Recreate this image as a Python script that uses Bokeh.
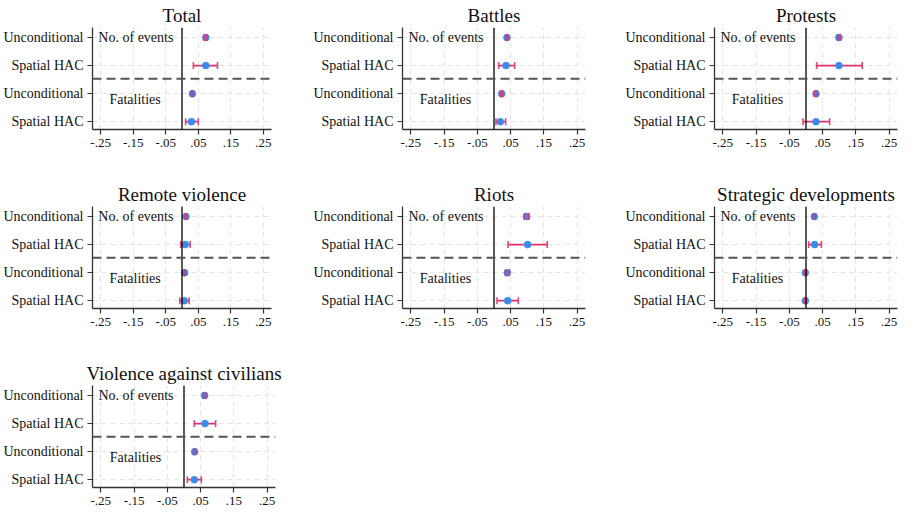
from bokeh.plotting import figure
from bokeh.layouts import column, row
from bokeh.models import FixedTicker, Range1d, Span, Label, ColumnDataSource
from bokeh.embed import file_html
from bokeh.resources import INLINE
import math

# ---------------- data ----------------
row_labels = ["Unconditional", "Spatial HAC", "Unconditional", "Spatial HAC"]
row_pos = [4, 3, 2, 1]
x_ticks = [-0.25, -0.15, -0.05, 0.05, 0.15, 0.25]
x_tick_labels = ["-.25", "-.15", "-.05", ".05", ".15", ".25"]
group_labels = ["No. of events", "Fatalities"]

titles = ["Total", "Battles", "Protests", "Remote violence", "Riots",
          "Strategic developments", "Violence against civilians"]

total_coef = [0.073, 0.073, 0.032, 0.029]
total_lo = [0.069, 0.035, 0.029, 0.011]
total_hi = [0.077, 0.109, 0.035, 0.050]

battles_coef = [0.039, 0.036, 0.023, 0.019]
battles_lo = [0.036, 0.014, 0.020, 0.006]
battles_hi = [0.042, 0.062, 0.026, 0.035]

protests_coef = [0.099, 0.099, 0.030, 0.030]
protests_lo = [0.095, 0.032, 0.026, -0.009]
protests_hi = [0.103, 0.169, 0.034, 0.071]

remote_coef = [0.012, 0.010, 0.008, 0.007]
remote_lo = [0.010, -0.004, 0.006, -0.007]
remote_hi = [0.014, 0.025, 0.010, 0.022]

riots_coef = [0.098, 0.101, 0.040, 0.041]
riots_lo = [0.091, 0.042, 0.035, 0.009]
riots_hi = [0.105, 0.160, 0.045, 0.073]

strategic_coef = [0.025, 0.026, -0.002, -0.002]
strategic_lo = [0.022, 0.008, -0.004, -0.004]
strategic_hi = [0.028, 0.046, 0.000, 0.000]

vac_coef = [0.062, 0.063, 0.032, 0.031]
vac_lo = [0.058, 0.031, 0.029, 0.010]
vac_hi = [0.066, 0.095, 0.035, 0.052]

FONT = "'Liberation Serif', serif"
BLUE = "#3a8bea"
RED = "#e0336e"


def make_panel(title, coef, lo, hi, width, bl, br, height=179, bb=50):
    p = figure(width=width, height=height,
               x_range=Range1d(-0.275, 0.275), y_range=Range1d(0.72, 4.36),
               output_backend="svg", toolbar_location=None, tools="",
               min_border_left=bl, min_border_right=br,
               min_border_top=24, min_border_bottom=bb, title=title)
    p.outline_line_color = None
    p.background_fill_color = "white"
    p.border_fill_color = "white"

    p.title.text_font = FONT
    p.title.text_font_size = "19px"
    p.title.text_font_style = "normal"
    p.title.align = "center"
    p.title.text_color = "#111111"
    p.title.standoff = 4

    p.xaxis.ticker = FixedTicker(ticks=x_ticks)
    p.xaxis.major_label_overrides = {t: l for t, l in zip(x_ticks, x_tick_labels)}
    p.yaxis.ticker = FixedTicker(ticks=row_pos)
    p.yaxis.major_label_overrides = {t: l for t, l in zip(row_pos, row_labels)}
    for axes, fs in ((p.xaxis, "13px"), (p.yaxis, "14px")):
        for ax in axes:
            ax.axis_line_color = "#333333"
            ax.axis_line_width = 1.3
            ax.major_tick_line_color = "#333333"
            ax.major_tick_line_width = 1.2
            ax.major_tick_out = 5
            ax.major_tick_in = 0
            ax.minor_tick_line_color = None
            ax.major_label_text_font = FONT
            ax.major_label_text_font_size = fs
            ax.major_label_text_font_style = "normal"
            ax.major_label_text_color = "#111111"
            ax.major_label_standoff = 4

    for g in (p.xgrid, p.ygrid):
        g.grid_line_color = "#e4e4e4"
        g.grid_line_dash = "5 4"
        g.grid_line_width = 1

    p.add_layout(Span(location=0, dimension="height", line_color="black", line_width=1.3))
    p.add_layout(Span(location=2.53, dimension="width", line_color="#555555",
                      line_width=2, line_dash="9 5"))

    src = ColumnDataSource(dict(y=row_pos, coef=coef, lo=lo, hi=hi))
    p.segment(x0="lo", y0="y", x1="hi", y1="y", source=src,
              line_color=RED, line_width=1.6)
    p.scatter(x="coef", y="y", source=src, size=7, marker="circle",
              fill_color=BLUE, line_color=BLUE, line_width=0.5)
    for col in ("lo", "hi"):
        p.scatter(x=col, y="y", source=src, marker="dash", angle=math.pi / 2,
                  size=7, line_color=RED, line_width=1.6, line_alpha=0.9)

    p.add_layout(Label(x=-0.257, y=4, text=group_labels[0], text_font=FONT,
                       text_font_size="14px", text_baseline="middle",
                       text_align="left", text_color="#111111"))
    p.add_layout(Label(x=-0.223, y=1.78, text=group_labels[1], text_font=FONT,
                       text_font_size="14px", text_baseline="middle",
                       text_align="left", text_color="#111111"))
    return p


p1 = make_panel(titles[0], total_coef, total_lo, total_hi, 302, 88, 31)
p2 = make_panel(titles[1], battles_coef, battles_lo, battles_hi, 312, 100, 29)
p3 = make_panel(titles[2], protests_coef, protests_lo, protests_hi, 287, 100, 4)
p4 = make_panel(titles[3], remote_coef, remote_lo, remote_hi, 302, 88, 31)
p5 = make_panel(titles[4], riots_coef, riots_lo, riots_hi, 312, 100, 29)
p6 = make_panel(titles[5], strategic_coef, strategic_lo, strategic_hi, 287, 100, 4)
p7 = make_panel(titles[6], vac_coef, vac_lo, vac_hi, 302, 80, 27, height=156, bb=27)

layout = column(row(p1, p2, p3), row(p4, p5, p6), row(p7))

with open("out.html", "w") as f:
    f.write(file_html(layout, INLINE))
